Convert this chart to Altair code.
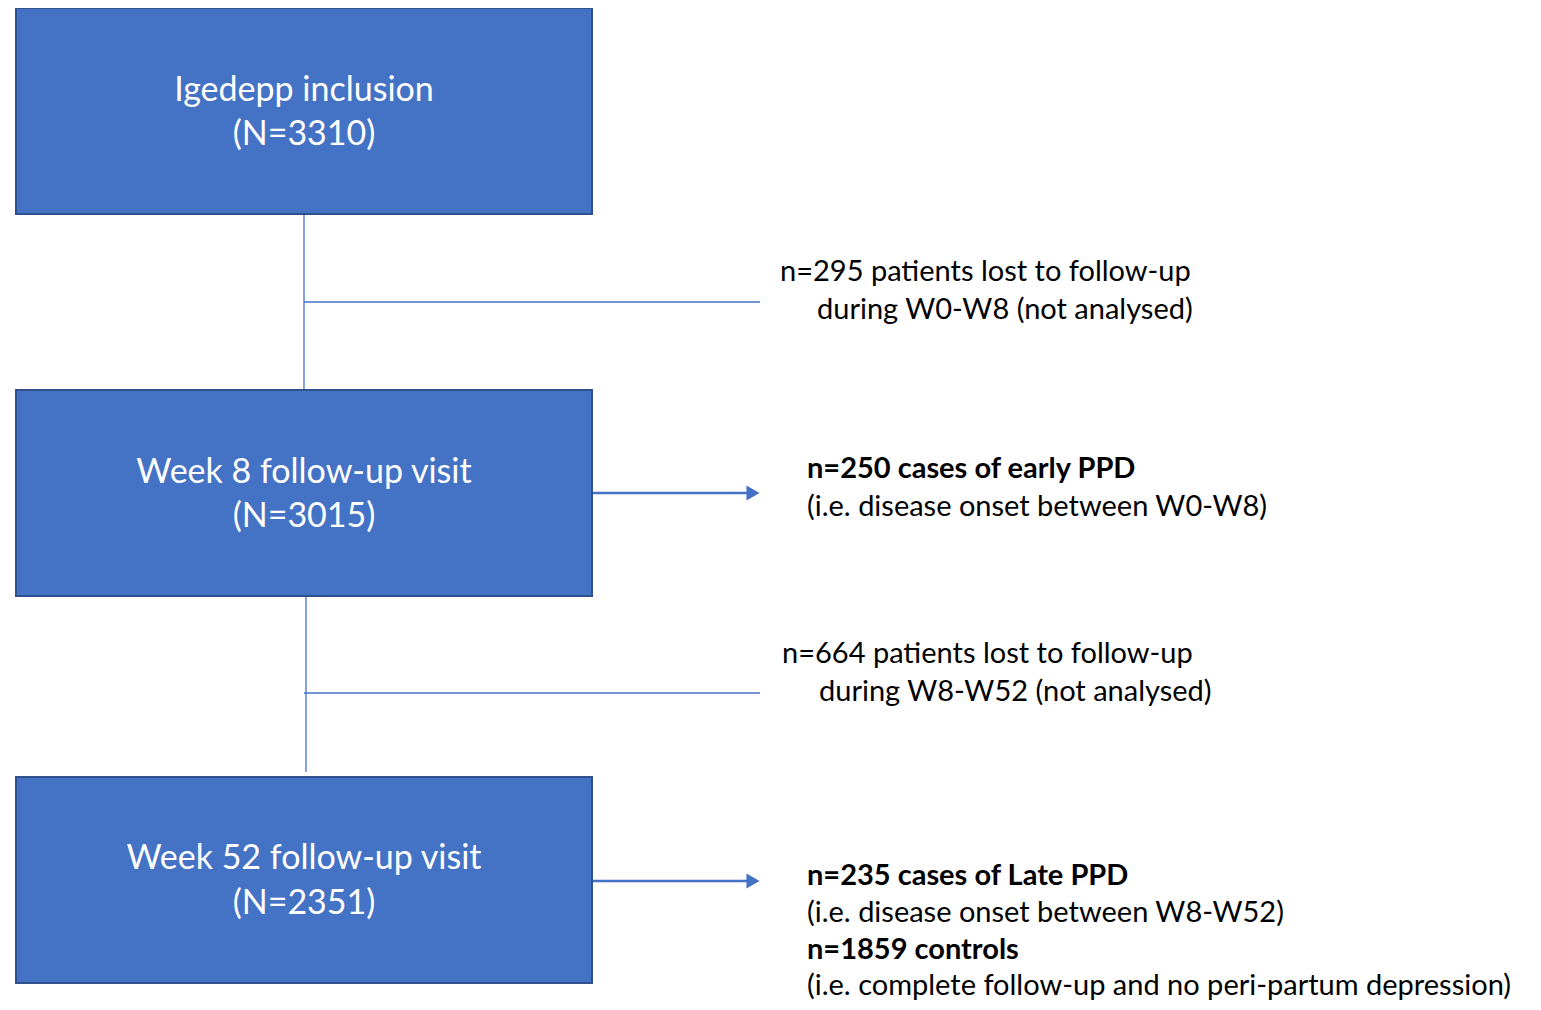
import altair as alt
import pandas as pd

# ---- content ----
box_titles = ["Igedepp inclusion", "Week 8 follow-up visit", "Week 52 follow-up visit"]
box_counts = ["(N=3310)", "(N=3015)", "(N=2351)"]

side_lines = [
    "n=295 patients lost to follow-up",
    "during W0-W8 (not analysed)",
    "n=250 cases of early PPD",
    "(i.e. disease onset between W0-W8)",
    "n=664 patients lost to follow-up",
    "during W8-W52 (not analysed)",
    "n=235 cases of Late PPD",
    "(i.e. disease onset between W8-W52)",
    "n=1859 controls",
    "(i.e. complete follow-up and no peri-partum depression)",
]
side_bold = [False, False, True, False, False, False, True, False, True, False]

# ---- layout (pixel space of the figure) ----
box_x = [16, 16, 16]
box_x2 = [592, 592, 592]
box_y = [8, 390, 777]
box_y2 = [214, 596, 983]
title_y = [91, 473, 859]
count_y = [135, 517, 904]

side_x = [780, 817, 807, 807, 782, 819, 807, 807, 807, 807]
side_y = [272, 310, 469, 507, 654, 692, 876, 913, 950, 986]

seg_x = [304, 304, 306, 304]
seg_x2 = [304, 760, 306, 760]
seg_y = [214, 302, 596, 693]
seg_y2 = [390, 302, 772, 693]

arrow_x = [592, 592]
arrow_x2 = [748, 748]
arrow_y = [493, 881]
head_x = [753, 753]

BLUE = "#4472C4"
DARK = "#2F528F"

xs = alt.Scale(domain=[8, 1533], nice=False, zero=False)
ys = alt.Scale(domain=[8, 1002], nice=False, zero=False, reverse=True)

boxes = pd.DataFrame({"x": box_x, "x2": box_x2, "y": box_y, "y2": box_y2})
rect = alt.Chart(boxes).mark_rect(fill=BLUE, stroke=DARK, strokeWidth=2).encode(
    x=alt.X("x:Q", scale=xs, axis=None),
    x2="x2:Q",
    y=alt.Y("y:Q", scale=ys, axis=None),
    y2="y2:Q",
)

segs = pd.DataFrame({"x": seg_x, "x2": seg_x2, "y": seg_y, "y2": seg_y2})
conn = alt.Chart(segs).mark_rule(color=BLUE, strokeWidth=1.3).encode(
    x=alt.X("x:Q", scale=xs, axis=None),
    x2="x2:Q",
    y=alt.Y("y:Q", scale=ys, axis=None),
    y2="y2:Q",
)

arrows = pd.DataFrame({"x": arrow_x, "x2": arrow_x2, "y": arrow_y, "y2": arrow_y, "hx": head_x})
arr = alt.Chart(arrows).mark_rule(color=BLUE, strokeWidth=2.5).encode(
    x=alt.X("x:Q", scale=xs, axis=None),
    x2="x2:Q",
    y=alt.Y("y:Q", scale=ys, axis=None),
    y2="y2:Q",
)
heads = alt.Chart(arrows).mark_point(
    shape="triangle-right", filled=True, color=BLUE, size=230, opacity=1
).encode(
    x=alt.X("hx:Q", scale=xs, axis=None),
    y=alt.Y("y:Q", scale=ys, axis=None),
)

btext = pd.DataFrame({
    "t": box_titles + box_counts,
    "x": [(a + b) / 2 for a, b in zip(box_x, box_x2)] * 2,
    "y": title_y + count_y,
})
box_text = alt.Chart(btext).mark_text(
    font="Lato", fontSize=34, color="white", align="center", baseline="middle"
).encode(
    x=alt.X("x:Q", scale=xs, axis=None),
    y=alt.Y("y:Q", scale=ys, axis=None),
    text="t:N",
)

stext = pd.DataFrame({
    "t": side_lines,
    "x": side_x,
    "y": side_y,
    "b": side_bold,
})


def side_layer(bold):
    return alt.Chart(stext).transform_filter(
        alt.datum.b == bold
    ).mark_text(
        font="Lato", fontSize=29, color="black", align="left", baseline="middle",
        fontWeight="bold" if bold else "normal",
    ).encode(
        x=alt.X("x:Q", scale=xs, axis=None),
        y=alt.Y("y:Q", scale=ys, axis=None),
        text="t:N",
    )


chart = alt.layer(conn, arr, heads, rect, box_text, side_layer(False), side_layer(True)).properties(
    width=1525, height=994, padding=0, autosize="none"
).configure_view(stroke=None)

chart.save("out.html", embed_options={"renderer": "svg", "actions": False})
